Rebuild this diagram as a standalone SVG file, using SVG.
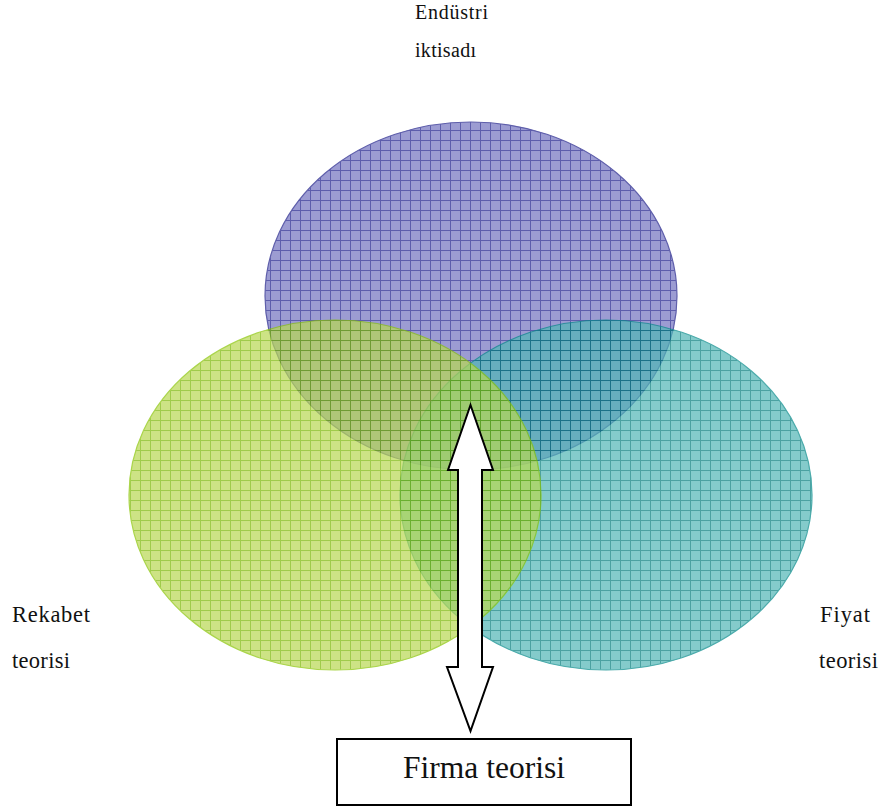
<svg xmlns="http://www.w3.org/2000/svg" width="885" height="809" viewBox="0 0 885 809">
<style>
.lbl{font-family:"Liberation Serif","Times New Roman",serif;fill:#111}
.ell{opacity:0.7}
</style>
<defs>
<pattern id="pTop" width="10" height="10" patternUnits="userSpaceOnUse">
<rect width="10" height="10" fill="#7373c0"/>
<path d="M0 0.5H10M0.5 0V10" stroke="#1a1a8a" stroke-width="1"/>
</pattern>
<pattern id="pGreen" width="10" height="10" patternUnits="userSpaceOnUse">
<rect width="10" height="10" fill="#b8d852"/>
<path d="M0 0.5H10M0.5 0V10" stroke="#78b600" stroke-width="1"/>
</pattern>
<pattern id="pTeal" width="10" height="10" patternUnits="userSpaceOnUse">
<rect width="10" height="10" fill="#51b6b6"/>
<path d="M0 0.5H10M0.5 0V10" stroke="#007a7a" stroke-width="1"/>
</pattern>
</defs>
<rect width="885" height="809" fill="#fff"/>
<g id="endustri">
<ellipse class="ell" cx="471" cy="296" rx="206" ry="174" fill="url(#pTop)" stroke="#1c1c88" stroke-width="1.2"/>
<text class="lbl" x="415" y="19" font-size="20" textLength="73" lengthAdjust="spacing">Endüstri</text>
<text class="lbl" x="415" y="57" font-size="20" textLength="61" lengthAdjust="spacing">iktisadı</text>
</g>
<g id="fiyat">
<ellipse class="ell" cx="606" cy="495" rx="206" ry="175" fill="url(#pTeal)" stroke="#008888" stroke-width="1.2"/>
<text class="lbl" x="820" y="622" font-size="22.5" textLength="50" lengthAdjust="spacing">Fiyat</text>
<text class="lbl" x="819" y="668" font-size="22.5" textLength="59" lengthAdjust="spacing">teorisi</text>
</g>
<g id="rekabet">
<ellipse class="ell" cx="335" cy="495" rx="206" ry="175" fill="url(#pGreen)" stroke="#88c400" stroke-width="1.2"/>
<text class="lbl" x="12" y="622" font-size="22.5" textLength="78" lengthAdjust="spacing">Rekabet</text>
<text class="lbl" x="12" y="668" font-size="22.5" textLength="58" lengthAdjust="spacing">teorisi</text>
</g>
<g id="connectors">
<path d="M470.5 405 L493 470 L482 470 L482 667 L493 667 L470.5 731 L447 667 L458 667 L458 470 L448 470 Z" fill="#fff" stroke="#000" stroke-width="2" stroke-linejoin="miter"/>
</g>
<g id="firma">
<rect x="337" y="739" width="294" height="66" fill="#fff" stroke="#000" stroke-width="2"/>
<text class="lbl" x="484" y="778" font-size="31.5" text-anchor="middle">Firma teorisi</text>
</g>
</svg>
